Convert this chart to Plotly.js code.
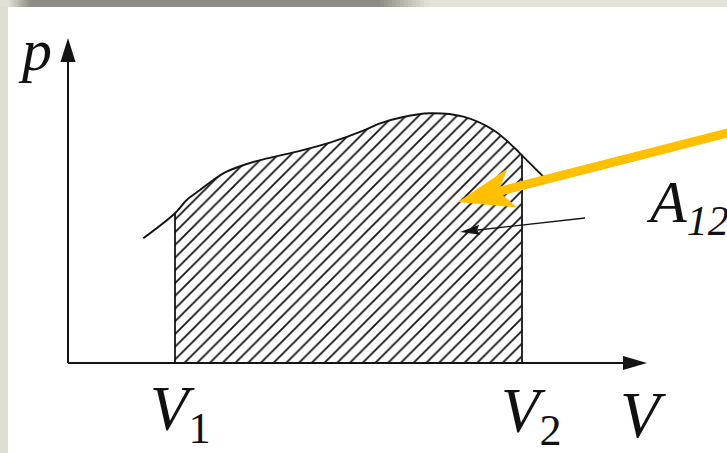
<!DOCTYPE html>
<html>
<head>
<meta charset="utf-8">
<script src="https://cdn.plot.ly/plotly-3.0.1.min.js"></script>
<style>
  html, body { margin: 0; padding: 0; background: #ffffff; }
</style>
</head>
<body>
<div id="chart" style="width:727px;height:453px;"></div>
<script>
// Process curve p(V) on the p-V diagram (arbitrary units)
const curveV = [7.53, 10.7, 11.87, 13.2, 14.53, 15.87, 17.87, 19.53, 22.87, 26.2, 29.53, 31.2, 33.2, 36.2, 39.53, 42.53, 44.53, 45.4, 47.53];
const curveP = [12.47, 14.97, 16.3, 17.3, 18.3, 19.13, 19.9, 20.37, 21.13, 22.03, 23.23, 23.97, 24.53, 24.97, 24.63, 23.3, 21.63, 20.77, 18.63];

// Volume limits of the shaded work area
const V1 = 10.7;
const V2 = 45.4;

// Axis extents (arrow tips)
const axisVmax = 57.9;
const axisPmax = 32.5;

// Text drawn on the diagram
const axisLabelP = 'p';
const axisLabelV = 'V';
const limitLabels = ['1', '2'];
const areaLabel = 'A';
const areaSub = '12';

const i1 = curveV.indexOf(V1);
const i2 = curveV.indexOf(V2);

const ink = '#141414';
const labelFont = 'Liberation Serif';

// Visible window in data units (10 px per unit on both axes)
const xRange = [-6.8, 65.9];
const yRange = [-9, 36.3];
const pxX = px => xRange[0] + px / 10;
const pxY = py => yRange[1] - py / 10;

const traces = [
  {
    // hatched area under the curve between V1 and V2
    x: curveV.slice(i1, i2 + 1),
    y: curveP.slice(i1, i2 + 1),
    mode: 'lines',
    line: { width: 0, shape: 'spline', color: ink },
    fill: 'tozeroy',
    fillcolor: 'rgba(255,255,255,0)',
    fillpattern: { shape: '/', size: 9, solidity: 0.2, fgcolor: ink, bgcolor: 'rgba(255,255,255,0)' },
    hoverinfo: 'skip'
  },
  {
    // boundary lines at V1 and V2
    x: [V1, V1, null, V2, V2],
    y: [0, curveP[i1], null, 0, curveP[i2]],
    mode: 'lines',
    line: { width: 1.8, color: ink },
    hoverinfo: 'skip'
  },
  {
    // the process curve
    x: curveV,
    y: curveP,
    mode: 'lines',
    line: { width: 1.9, color: ink, shape: 'spline' },
    hoverinfo: 'skip'
  }
];

// Filled arrowhead path (tip, length, half width, notch depth) in data units
function headPath(tip, tail, len, half, notch) {
  const dx = tip[0] - tail[0], dy = tip[1] - tail[1];
  const L = Math.hypot(dx, dy);
  const ux = dx / L, uy = dy / L;
  const nx = -uy, ny = ux;
  const bx = tip[0] - ux * len, by = tip[1] - uy * len;
  const w1 = [bx + nx * half, by + ny * half];
  const w2 = [bx - nx * half, by - ny * half];
  const nk = [tip[0] - ux * notch, tip[1] - uy * notch];
  return 'M' + tip[0] + ',' + tip[1] + ' L' + w1[0] + ',' + w1[1] +
         ' L' + nk[0] + ',' + nk[1] + ' L' + w2[0] + ',' + w2[1] + ' Z';
}
function backOff(tip, tail, d) {
  const dx = tip[0] - tail[0], dy = tip[1] - tail[1];
  const L = Math.hypot(dx, dy);
  return [tip[0] - dx / L * d, tip[1] - dy / L * d];
}

// Slide frame: white sheet, light strip on the left, shaded bar along the top
function hexMix(a, b, t) {
  const pa = [1, 3, 5].map(k => parseInt(a.substr(k, 2), 16));
  const pb = [1, 3, 5].map(k => parseInt(b.substr(k, 2), 16));
  return 'rgb(' + pa.map((v, k) => Math.round(v + (pb[k] - v) * t)).join(',') + ')';
}
function rectPx(x0, x1, y0, y1, color) {
  return { type: 'rect', xref: 'x', yref: 'y', layer: 'below',
    x0: pxX(x0), x1: pxX(x1), y0: pxY(y0), y1: pxY(y1),
    fillcolor: color, line: { width: 0 } };
}
const barLight = '#e3e0d6', barDark = '#8f8c85', barLight2 = '#e4e1d8';
const frameShapes = [
  rectPx(8, 727, 7, 453, '#ffffff'),
  rectPx(0, 8, 0, 453, '#e0ddd2'),
  rectPx(0, 8, 0, 7, barLight),
  rectPx(30, 380, 0, 7, barDark),
  rectPx(428, 727, 0, 7, barLight2)
];
const steps = 12;
for (let k = 0; k < steps; k++) {
  const a0 = 8 + (22 * k) / steps, a1 = 8 + (22 * (k + 1)) / steps;
  frameShapes.push(rectPx(a0, a1 + 0.5, 0, 7, hexMix(barLight, barDark, (k + 0.5) / steps)));
  const b0 = 380 + (48 * k) / steps, b1 = 380 + (48 * (k + 1)) / steps;
  frameShapes.push(rectPx(b0, b1 + 0.5, 0, 7, hexMix(barDark, barLight2, (k + 0.5) / steps)));
}

const orangeTail = [66.5, 23.15];
const orangeTip = [39.0, 16.1];
const orangeNeck = backOff(orangeTip, orangeTail, 4.0);
const pointerTail = [51.7, 14.5];
const pointerTip = [39.2, 13.1];
const pointerNeck = backOff(pointerTip, pointerTail, 1.6);

const shapes = frameShapes.concat([
  // axes
  { type: 'line', xref: 'x', yref: 'y', x0: 0, y0: 0, x1: 0, y1: axisPmax - 2.2, line: { color: ink, width: 2 } },
  { type: 'line', xref: 'x', yref: 'y', x0: 0, y0: 0, x1: axisVmax - 2.2, y1: 0, line: { color: ink, width: 2 } },
  { type: 'path', xref: 'x', yref: 'y', path: headPath([0, axisPmax], [0, 0], 2.4, 0.75, 2.4), fillcolor: ink, line: { width: 0 } },
  { type: 'path', xref: 'x', yref: 'y', path: headPath([axisVmax, 0], [0, 0], 2.4, 0.7, 2.4), fillcolor: ink, line: { width: 0 } },
  // thin pointer to the area
  { type: 'line', xref: 'x', yref: 'y', x0: pointerTail[0], y0: pointerTail[1], x1: pointerNeck[0], y1: pointerNeck[1], line: { color: ink, width: 1.4 } },
  { type: 'path', xref: 'x', yref: 'y', path: headPath(pointerTip, pointerTail, 2.0, 0.5, 1.7), fillcolor: ink, line: { width: 0 } },
  // highlight arrow
  { type: 'line', xref: 'x', yref: 'y', x0: orangeTail[0], y0: orangeTail[1], x1: orangeNeck[0], y1: orangeNeck[1], line: { color: '#FFC000', width: 9 } },
  { type: 'path', xref: 'x', yref: 'y', path: headPath(orangeTip, orangeTail, 5.6, 2.0, 4.2), fillcolor: '#FFC000', line: { width: 0 } }
]);

function label(text, x, y, size) {
  return {
    text: text, x: x, y: y, xref: 'x', yref: 'y',
    xanchor: 'left', yanchor: 'middle', showarrow: false,
    font: { family: labelFont, size: size, color: '#111111' }
  };
}

const annotations = [
  label('<i>' + axisLabelP + '</i>', -5.25, 31.3, 60),
  label('<i>' + axisLabelV + '</i><sub>' + limitLabels[0] + '</sub>', 8.0, -5.0, 63),
  label('<i>' + axisLabelV + '</i><sub>' + limitLabels[1] + '</sub>', 43.1, -5.2, 63),
  label('<i>' + axisLabelV + '</i>', 55.0, -5.2, 65),
  label('<i>' + areaLabel + '<sub>' + areaSub + '</sub></i>', 57.6, 15.7, 60)
];

const layout = {
  width: 727, height: 453, autosize: false,
  margin: { l: 0, t: 0, r: 0, b: 0, pad: 0 },
  font: { family: labelFont },
  paper_bgcolor: '#e0ddd2',
  plot_bgcolor: '#e0ddd2',
  showlegend: false,
  xaxis: { range: xRange, visible: false, fixedrange: true },
  yaxis: { range: yRange, visible: false, fixedrange: true },
  shapes: shapes,
  annotations: annotations
};

Plotly.newPlot('chart', traces, layout, { staticPlot: true, displayModeBar: false });
</script>
</body>
</html>
